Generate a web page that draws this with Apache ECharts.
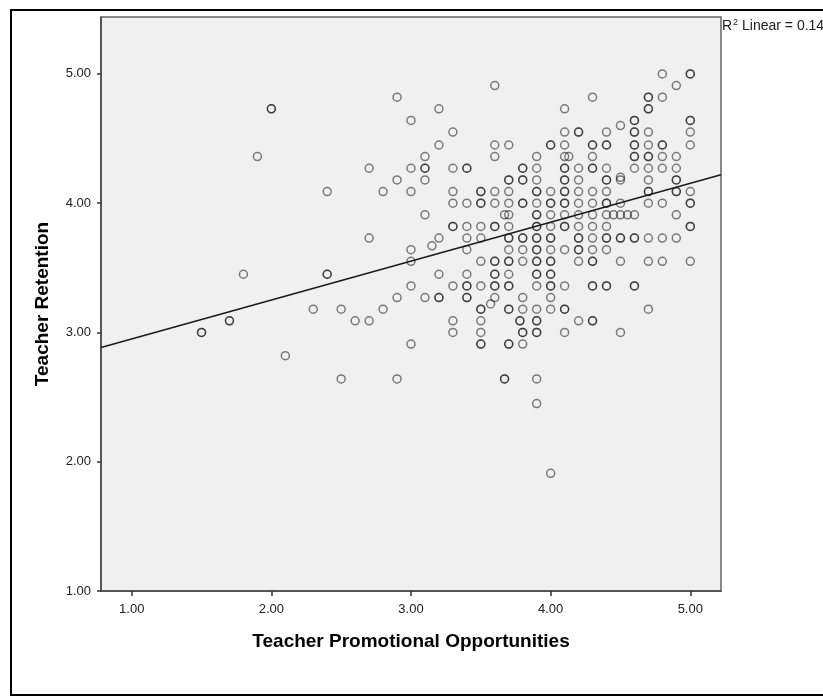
<!DOCTYPE html>
<html>
<head>
<meta charset="utf-8">
<script src="https://cdn.jsdelivr.net/npm/echarts@6/dist/echarts.min.js"></script>
<style>
html,body{margin:0;padding:0;background:#fff;}
#chart{width:823px;height:698px;}
</style>
</head>
<body>
<div id="chart"></div>
<script>
// x value of each column of points (Teacher Promotional Opportunities)
const columnX = [1.5, 1.7, 1.8, 1.9, 2.0, 2.1, 2.3, 2.4, 2.5, 2.6, 2.7, 2.8, 2.9, 3.0, 3.1, 3.15, 3.2, 3.3, 3.4, 3.5, 3.57, 3.6, 3.67, 3.7, 3.78, 3.8, 3.9, 4.0, 4.1, 4.13, 4.2, 4.3, 4.4, 4.45, 4.5, 4.55, 4.6, 4.7, 4.8, 4.9, 5.0];
// y values (Teacher Retention) in each column; repeated values are overlapping cases
const columnY = [
  [3.00, 3.00],
  [3.09, 3.09],
  [3.45],
  [4.36],
  [4.73, 4.73],
  [2.82],
  [3.18],
  [4.09, 3.45, 3.45],
  [3.18, 2.64],
  [3.09],
  [4.27, 3.73, 3.09],
  [4.09, 3.18],
  [4.82, 4.18, 3.27, 2.64],
  [4.64, 4.27, 4.09, 3.64, 3.55, 3.36, 2.91],
  [4.36, 4.27, 4.27, 4.18, 3.91, 3.27],
  [3.67],
  [4.73, 4.45, 3.73, 3.45, 3.27, 3.27],
  [4.55, 4.27, 4.09, 4.00, 3.82, 3.82, 3.36, 3.09, 3.00],
  [4.27, 4.27, 4.00, 3.82, 3.73, 3.64, 3.45, 3.36, 3.36, 3.27, 3.27],
  [4.09, 4.09, 4.00, 4.00, 3.82, 3.73, 3.55, 3.36, 3.18, 3.18, 3.09, 3.00, 2.91, 2.91],
  [3.22],
  [4.91, 4.45, 4.36, 4.09, 4.00, 3.82, 3.82, 3.55, 3.55, 3.45, 3.45, 3.36, 3.36, 3.27],
  [3.91, 2.64, 2.64],
  [4.45, 4.18, 4.18, 4.09, 4.00, 3.91, 3.82, 3.73, 3.73, 3.64, 3.55, 3.55, 3.45, 3.36, 3.36, 3.18, 3.18, 2.91, 2.91],
  [3.09, 3.09],
  [4.27, 4.27, 4.18, 4.18, 4.00, 4.00, 3.73, 3.73, 3.64, 3.55, 3.27, 3.18, 3.00, 3.00, 2.91],
  [4.36, 4.27, 4.18, 4.09, 4.09, 4.00, 3.91, 3.91, 3.82, 3.82, 3.73, 3.73, 3.64, 3.64, 3.55, 3.55, 3.45, 3.45, 3.36, 3.18, 3.09, 3.09, 3.00, 3.00, 2.64, 2.45],
  [4.45, 4.45, 4.09, 4.00, 4.00, 3.91, 3.82, 3.73, 3.73, 3.64, 3.55, 3.55, 3.45, 3.45, 3.36, 3.36, 3.27, 3.18, 1.91],
  [4.73, 4.55, 4.45, 4.36, 4.27, 4.27, 4.18, 4.18, 4.09, 4.09, 4.00, 4.00, 3.91, 3.82, 3.82, 3.64, 3.36, 3.18, 3.18, 3.00],
  [4.36],
  [4.55, 4.55, 4.27, 4.18, 4.09, 4.00, 3.91, 3.82, 3.73, 3.73, 3.64, 3.64, 3.55, 3.09],
  [4.82, 4.45, 4.45, 4.36, 4.27, 4.27, 4.09, 4.00, 3.91, 3.82, 3.73, 3.64, 3.55, 3.55, 3.36, 3.36, 3.09, 3.09],
  [4.55, 4.45, 4.45, 4.27, 4.18, 4.18, 4.09, 4.00, 4.00, 3.91, 3.82, 3.73, 3.73, 3.64, 3.36, 3.36],
  [3.91],
  [4.60, 4.20, 4.18, 4.00, 3.91, 3.73, 3.73, 3.55, 3.00],
  [3.91],
  [4.64, 4.64, 4.55, 4.55, 4.45, 4.45, 4.36, 4.36, 4.27, 3.91, 3.73, 3.73, 3.36, 3.36],
  [4.82, 4.82, 4.73, 4.73, 4.55, 4.45, 4.36, 4.36, 4.27, 4.18, 4.09, 4.09, 4.00, 3.73, 3.55, 3.18],
  [5.00, 4.82, 4.45, 4.45, 4.36, 4.27, 4.00, 3.73, 3.55],
  [4.91, 4.36, 4.27, 4.18, 4.18, 4.09, 4.09, 3.91, 3.73],
  [5.00, 5.00, 4.64, 4.64, 4.55, 4.45, 4.09, 4.00, 4.00, 3.82, 3.82, 3.55]
];
const xTicks = [1, 2, 3, 4, 5];
const yTicks = [1, 2, 3, 4, 5];
const xRange = [0.78, 5.22];
const yRange = [1.0, 5.44];
// linear fit
const fitIntercept = 2.648;
const fitSlope = 0.301;
const r2Text = '0.14';
const xTitle = 'Teacher Promotional Opportunities';
const yTitle = 'Teacher Retention';

const points = [];
columnX.forEach((x, i) => columnY[i].forEach(y => points.push([x, y])));
const fitLine = xRange.map(x => [x, fitIntercept + fitSlope * x]);

const FONT = "'Liberation Sans', Arial, sans-serif";
const chart = echarts.init(document.getElementById('chart'), null, {renderer: 'canvas'});
const axisCommon = {
  type: 'value',
  splitLine: {show: false},
  axisLine: {show: true, onZero: false, lineStyle: {color: '#444', width: 1.5}},
  axisTick: {show: true, length: 5, lineStyle: {color: '#333', width: 1.5}},
  axisLabel: {color: '#222', fontSize: 13, fontFamily: FONT, formatter: v => v.toFixed(2)},
  nameLocation: 'middle',
  nameTextStyle: {color: '#000', fontSize: 19, fontWeight: 'bold', fontFamily: FONT}
};
chart.setOption({
  animation: false,
  backgroundColor: '#fff',
  grid: {
    left: 101, top: 17, right: 102, bottom: 107,
    show: true, backgroundColor: '#f0f0f0', borderColor: '#666', borderWidth: 1.5,
    containLabel: false, outerBoundsMode: 'none'
  },
  xAxis: Object.assign({}, axisCommon, {
    min: xRange[0], max: xRange[1],
    name: xTitle, nameGap: 41,
    axisTick: Object.assign({}, axisCommon.axisTick, {customValues: xTicks}),
    axisLabel: Object.assign({}, axisCommon.axisLabel, {customValues: xTicks, margin: 12})
  }),
  yAxis: Object.assign({}, axisCommon, {
    min: yRange[0], max: yRange[1],
    name: yTitle, nameGap: 49,
    axisTick: Object.assign({}, axisCommon.axisTick, {customValues: yTicks, length: 4}),
    axisLabel: Object.assign({}, axisCommon.axisLabel, {customValues: yTicks, margin: 10})
  }),
  series: [
    {
      type: 'scatter',
      data: points,
      symbol: 'circle',
      symbolSize: 8,
      itemStyle: {color: 'rgba(0,0,0,0)', borderColor: 'rgba(0,0,0,0.62)', borderWidth: 1.5},
      clip: false,
      z: 2
    },
    {
      type: 'line',
      data: fitLine,
      showSymbol: false,
      symbol: 'none',
      lineStyle: {color: '#1a1a1a', width: 1.5},
      z: 3
    }
  ],
  graphic: [
    {
      type: 'rect',
      shape: {x: 11, y: 10, width: 900, height: 685},
      style: {fill: 'none', stroke: '#000', lineWidth: 2},
      silent: true
    },
    {
      type: 'text',
      left: 722, top: 18,
      style: {
        rich: {
          a: {fontSize: 14, fontFamily: FONT, fill: '#222'},
          s: {fontSize: 9, fontFamily: FONT, fill: '#222', verticalAlign: 'top', padding: [0, 0, 7, 1]}
        },
        text: '{a|R}{s|2}{a| Linear = ' + r2Text + '}'
      }
    }
  ]
});
</script>
</body>
</html>
